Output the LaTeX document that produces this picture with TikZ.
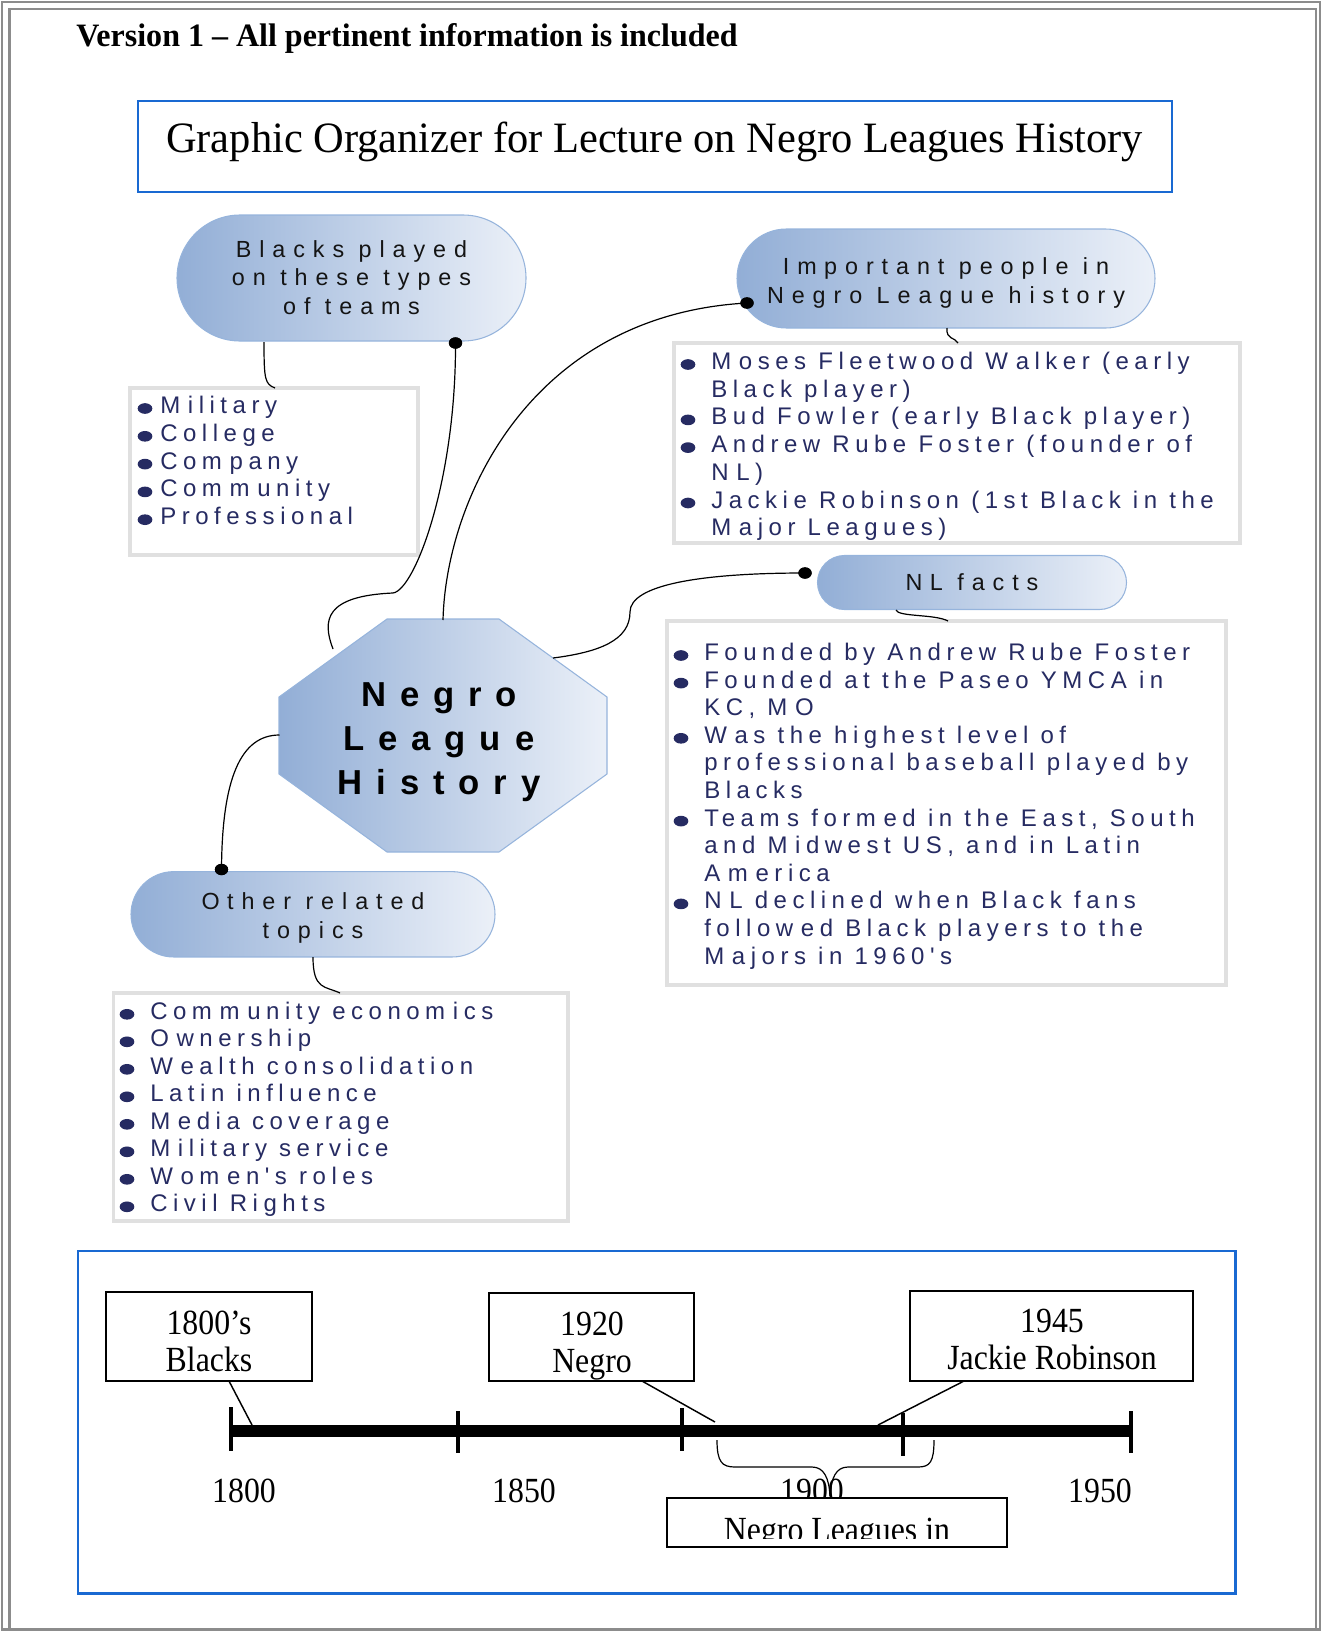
\documentclass[tikz,border=0pt]{standalone}
\usepackage{fontspec}
\setmainfont{Liberation Serif}
\newfontfamily\headfont{Liberation Serif}[FakeStretch=0.98]
\newfontfamily\tlfont{Liberation Serif}[FakeStretch=0.9]
\newfontfamily\listfont{Liberation Sans}[LetterSpace=23]
\newfontfamily\bubblefont{Liberation Sans}[LetterSpace=34]
\newfontfamily\hubfont{Liberation Sans}[LetterSpace=40]
\usetikzlibrary{shapes.misc,shapes.geometric}
\newcommand\lsgap{\kern.32em\relax}
% centred lines of a bubble, nudged down without changing the box size
\newcommand\bubtext[2]{\raisebox{-#1}[\height][\depth]{\begin{tabular}{@{}c@{}}#2\end{tabular}}}

\definecolor{navy}{RGB}{38,43,98}
\definecolor{bubL}{RGB}{146,174,214}
\definecolor{bubR}{RGB}{235,240,248}
\definecolor{bubEdge}{RGB}{150,180,220}
\definecolor{frameblue}{RGB}{25,105,210}
\definecolor{boxgray}{RGB}{224,224,224}
\definecolor{pagegray}{RGB}{140,140,140}

\begin{document}
\begin{tikzpicture}[x=0.75pt,y=-0.75pt,
  bubble/.style={rounded rectangle, draw=bubEdge, line width=0.8pt,
    left color=bubL, right color=bubR, inner sep=0pt,
    text=black!92, font=\bubblefont\fontsize{17.5}{21.4}\selectfont},
  listbox/.style={draw=boxgray, line width=2.6pt},
  bul/.style={ellipse, fill=navy, inner sep=0pt, minimum width=11pt, minimum height=8pt},
  itm/.style={anchor=base west, inner sep=0pt, text=navy,
    font=\listfont\fontsize{18}{20.7}\selectfont},
  dot/.style={ellipse, fill=black, inner sep=0pt, minimum width=10pt, minimum height=8.5pt},
  wire/.style={line width=0.9pt},
  tlbox/.style={draw=black, line width=1.5pt, fill=white},
  tltext/.style={anchor=base, inner sep=0pt, font=\tlfont\fontsize{26.5}{28}\selectfont},
  callout/.style={line width=1.1pt},
]

\useasboundingbox (0,0) rectangle (1322,1631);

% page frame
\draw[pagegray, line width=1.9pt] (2,2) rectangle (1320,1629.5);
\draw[pagegray, line width=1.9pt] (9.5,9) rectangle (1316,1629.5);

% headings
\node[anchor=base west, inner sep=0pt, font=\headfont\bfseries\fontsize{24.5}{28}\selectfont]
  (ver) at (76,46.5) {Version 1 – All pertinent information is included};
\draw[frameblue, line width=2pt] (138,101) rectangle (1172,192);
\node[anchor=base, inner sep=0pt, font=\headfont\fontsize{32.5}{36}\selectfont]
  (title) at (654.5,152) {Graphic Organizer for Lecture on Negro Leagues History};

% list boxes
\draw[listbox] (130,388) rectangle (418,555);
\draw[listbox] (674,343) rectangle (1240,543);
\draw[listbox] (667,621) rectangle (1226,985);
\draw[listbox] (113.4,993) rectangle (568,1221);

% central octagon
\path[draw=bubEdge, line width=0.8pt, left color=bubL, right color=bubR]
  (387,619) -- (499,619) -- (607,697) -- (607,774) -- (499,852) -- (387,852)
  -- (279,774) -- (279,697) -- cycle;
\node[anchor=north, align=center, inner sep=0pt,
  font=\hubfont\bfseries\fontsize{26}{33}\selectfont] (hub) at (439,682)
  {Negro\\League\\History};
\coordinate (hubA) at (333,649);
\coordinate (hubB) at (443,620);
\coordinate (hubC) at (553,658);
\coordinate (hubD) at (279.5,735);

% topic bubbles
\node[bubble, minimum width=261.75pt, minimum height=94.5pt] (b1) at (351.5,278)
  {\bubtext{1.5pt}{Blacks played\\on these types\\of team\lsgap s}};
\node[bubble, minimum width=313.5pt, minimum height=74.25pt] (b2) at (946,278.5)
  {\bubtext{3.4pt}{Im\lsgap portant people in\\Negro League history}};
\node[bubble, minimum width=231.75pt, minimum height=40.5pt] (b3) at (972,582.5)
  {\bubtext{1.5pt}{N\lsgap L facts}};
\node[bubble, minimum width=273pt, minimum height=64pt] (b4) at (313,914.3)
  {\bubtext{3pt}{O\lsgap ther related\\topics}};

% connectors from the hub to the bubbles
\node[dot] (d1) at (455.5,343) {};
\node[dot] (d2) at (747,303) {};
\node[dot] (d3) at (805,573) {};
\node[dot] (d4) at (221.5,869.5) {};
\draw[wire] (hubA) .. controls (322,620) and (325,596) .. (393,593)
  .. controls (415,590) and (456,480) .. (d1.center);
\draw[wire] (hubB) .. controls (446,500) and (530,315) .. (d2.center);
\draw[wire] (hubC) .. controls (600,652) and (630,640) .. (630,612)
  .. controls (630,585) and (700,573) .. (d3.center);
\draw[wire] (hubD) .. controls (240,735) and (222,780) .. (d4.center);
\node[dot] at (d1) {};
\node[dot] at (d2) {};
\node[dot] at (d3) {};
\node[dot] at (d4) {};

% short links from the bubbles to their lists
\coordinate (b1x) at (264,342);  \coordinate (l1x) at (275,388);
\coordinate (b2x) at (947,328);  \coordinate (l2x) at (958,343);
\coordinate (b3x) at (896,610);  \coordinate (l3x) at (948,621);
\coordinate (b4x) at (313,957);  \coordinate (l4x) at (340,993);
\draw[wire] (b1x) .. controls (264,380) and (265,384) .. (l1x);
\draw[wire] (b2x) .. controls (946,340) and (955,337) .. (l2x);
\draw[wire] (b3x) .. controls (898,617) and (935,614) .. (l3x);
\draw[wire] (b4x) .. controls (313,990) and (325,986) .. (l4x);

% list: types of teams
\foreach \y/\t [count=\i] in {413.5/{M\lsgap ilitary}, 441.3/{College},
    469.1/{Com\lsgap pany}, 496.9/{Com\lsgap m\lsgap unity}, 524.7/{Professional}}{
  \node[bul] (t\i b) at (145,\y-5) {};
  \node[itm] (t\i) at (160,\y) {\t};
}

% list: important people
\foreach \k/\t/\hasbul [count=\i] in {
    0/{M\lsgap oses Fleetwood W\lsgap alker (early}/1,
    1/{Black player)}/0,
    2/{Bud Fow\lsgap ler (early Black player)}/1,
    3/{Andrew Rube Foster (founder of}/1,
    4/{N\lsgap L)}/0,
    5/{Jackie Robinson (1st Black in the}/1,
    6/{M\lsgap ajor Leagues)}/0}{
  \pgfmathsetmacro\yy{369.5+27.7*\k}
  \ifnum\hasbul=1 \node[bul] (p\i b) at (688,\yy-5) {};\fi
  \node[itm] (p\i) at (711,\yy) {\t};
}

% list: NL facts
\foreach \k/\t/\hasbul [count=\i] in {
    0/{Founded by Andrew Rube Foster}/1,
    1/{Founded at the Paseo YMCA in}/1,
    2/{KC, M\lsgap O}/0,
    3/{W\lsgap as the highest level of}/1,
    4/{professional baseball played by}/0,
    5/{Blacks}/0,
    6/{Team\lsgap s form\lsgap ed in the East, South}/1,
    7/{and M\lsgap idwest US, and in Latin}/0,
    8/{A\lsgap m\lsgap erica}/0,
    9/{N\lsgap L declined when Black fans}/1,
    10/{follow\lsgap ed Black players to the}/0,
    11/{M\lsgap ajors in 1960's}/0}{
  \pgfmathsetmacro\yy{660.5+27.6*\k}
  \ifnum\hasbul=1 \node[bul] (f\i b) at (681,\yy-5) {};\fi
  \node[itm] (f\i) at (704,\yy) {\t};
}

% list: other related topics
\foreach \k/\t [count=\i] in {
    0/{Com\lsgap m\lsgap unity econom\lsgap ics}, 1/{O\lsgap wnership},
    2/{W\lsgap ealth consolidation}, 3/{Latin influence},
    4/{M\lsgap edia coverage}, 5/{M\lsgap ilitary service},
    6/{W\lsgap om\lsgap en's roles}, 7/{Civil Rights}}{
  \pgfmathsetmacro\yy{1019.3+27.5*\k}
  \node[bul] (o\i b) at (127,\yy-5) {};
  \node[itm] (o\i) at (150,\yy) {\t};
}

% ---- timeline ----
\draw[frameblue, line width=2pt] (78,1251) rectangle (1235.5,1593.5);
\coordinate (barL) at (231,1431);
\coordinate (barR) at (1131,1431);
\draw[line width=9pt] (barL) -- (barR);
\draw[line width=3.5pt] (231,1407) -- (231,1451);
\draw[line width=3.5pt] (458,1411) -- (458,1453);
\draw[line width=3.5pt] (682,1408) -- (682,1451);
\draw[line width=3.5pt] (903,1413) -- (903,1456);
\draw[line width=3.5pt] (1131,1411) -- (1131,1453);

\node[tltext] (y1800) at (244,1502) {1800};
\node[tltext] (y1850) at (524,1502) {1850};
\node[tltext] (y1900) at (812,1502) {1900};
\node[tltext] (y1950) at (1100,1502) {1950};

% event boxes and their callouts
\coordinate (cA) at (229,1381);  \coordinate (tA) at (252,1425);
\coordinate (cB) at (642,1381);  \coordinate (tB) at (715,1422);
\coordinate (cC) at (964,1381);  \coordinate (tC) at (878,1425);
\draw[callout] (cA) -- (tA);
\draw[callout] (cB) -- (tB);
\draw[callout] (cC) -- (tC);

\draw[tlbox] (106,1292) rectangle (312,1381);
\node[tltext] (eA1) at (209,1334) {1800’s};
\node[tltext] (eA2) at (209,1371) {Blacks};

\draw[tlbox] (489,1293) rectangle (694,1381);
\begin{scope}
  \clip (490,1294) rectangle (693,1380);
  \node[tltext] (eB1) at (592,1335) {1920};
  \node[tltext] (eB2) at (592,1372) {Negro};
\end{scope}

\draw[tlbox] (910,1291) rectangle (1193,1381);
\node[tltext] (eC1) at (1052,1332) {1945};
\node[tltext] (eC2) at (1052,1369) {Jackie Robinson};

% brace over the league years
\draw[line width=0.9pt] (717,1440) .. controls (717,1462) and (722,1467) .. (735,1467)
  -- (812,1467) .. controls (824,1467) and (829,1478) .. (830,1496)
  .. controls (831,1478) and (836,1467) .. (848,1467)
  -- (918,1467) .. controls (930,1467) and (934,1462) .. (934,1440);

\draw[tlbox] (667,1498) rectangle (1007,1547);
\begin{scope}
  \clip (668,1499) rectangle (1006,1538);
  \node[tltext] (eD) at (837,1541) {Negro Leagues in};
\end{scope}

\end{tikzpicture}
\end{document}
